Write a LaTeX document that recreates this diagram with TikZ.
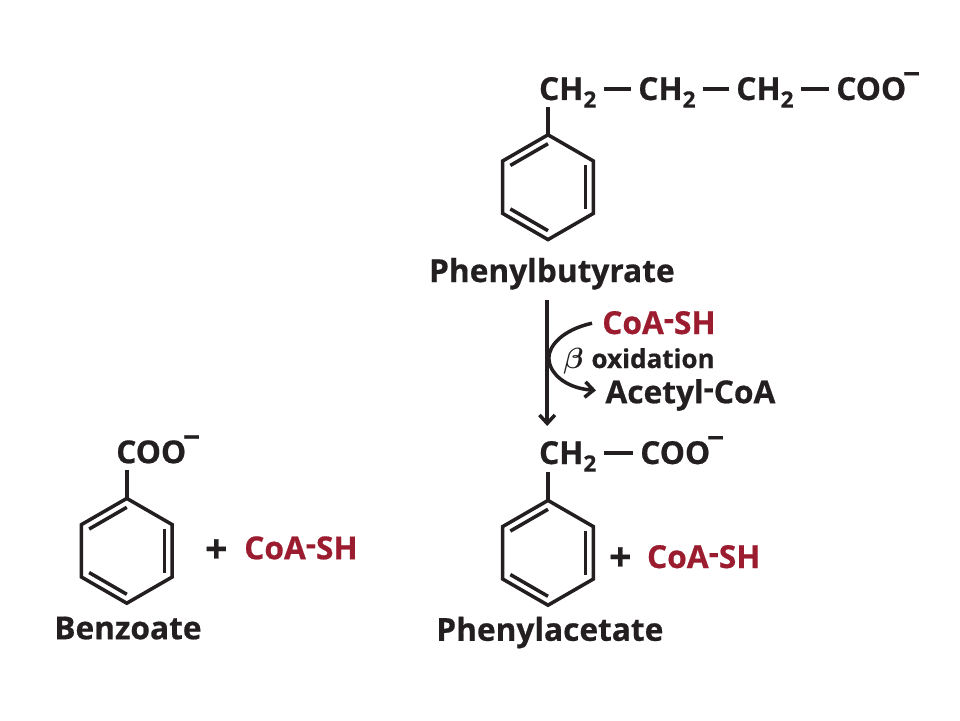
\documentclass[tikz,border=0pt]{standalone}
\usepackage{fontspec}
\setmainfont{Open Sans}[BoldFeatures={FakeBold=0.6}]
\usetikzlibrary{shapes.geometric,calc,arrows.meta}
\definecolor{ink}{HTML}{231F20}
\definecolor{coared}{HTML}{9B1C2E}
\newcommand{\chtwo}{CH\raisebox{-.24em}{\fontsize{16}{16}\selectfont 2}}
\newcommand{\coo}{COO\raisebox{.5em}{\fontsize{21}{21}\selectfont \kern-.1em−}}
\newcommand{\coa}[1]{#1\raisebox{.14em}{-}}
% the three double bonds inside a ring
\newcommand{\innerbonds}[1]{
  \draw[ringline] ($(#1)!.83!(#1.corner 2)$) -- ($(#1)!.83!(#1.corner 3)$);
  \draw[ringline] ($(#1)!.83!(#1.corner 4)$) -- ($(#1)!.83!(#1.corner 5)$);
  \draw[ringline] ($(#1)!.83!(#1.corner 6)$) -- ($(#1)!.83!(#1.corner 1)$);
}
\tikzset{
  chem/.style={anchor=base west,inner sep=0pt,text height=15.6pt,text depth=0pt,
    text=ink,font=\fontsize{22.5}{22.5}\selectfont\bfseries},
  red chem/.style={chem,text=coared},
  plus sign/.style={chem,font=\fontsize{28}{28}\selectfont\bfseries},
  ringline/.style={draw=ink,line width=2.5pt},
  ring/.style={regular polygon,regular polygon sides=6,shape border rotate=-30,
    minimum size=2.62cm,inner sep=0pt,outer sep=0pt,draw=ink,line width=2.5pt},
  bond/.style={draw=ink,line width=2.8pt,shorten <=5pt,shorten >=5pt},
  stem/.style={draw=ink,line width=2.5pt},
  rxn/.style={draw=ink,line width=2.5pt,-{Straight Barb[length=6pt,width=11pt,line width=2.5pt]}}
}
\begin{document}
\begin{tikzpicture}
  \useasboundingbox (0,0) rectangle (24,18);

  % phenylbutyrate
  \node[chem] (cha) at (13.47,15.5) {\chtwo};
  \node[chem] (chb) at (15.95,15.5) {\chtwo};
  \node[chem] (chc) at (18.4,15.5) {\chtwo};
  \node[chem] (cooa) at (20.9,15.5) {\coo};
  \draw[bond] (cha) -- (chb);
  \draw[bond] (chb) -- (chc);
  \draw[bond] (chc) -- (cooa);
  \node[ring] (ringa) at (13.7,13.32) {};
  \innerbonds{ringa}
  \draw[stem] (ringa.corner 2) -- ++(0,.7) coordinate (stema);
  \node[chem] (pb) at (10.72,10.95) {Phenylbutyrate};

  % reaction
  \coordinate (top) at (13.68,10.5);
  \coordinate (bot) at (13.68,7.35);
  \draw[rxn] (top) -- (bot);
  \node[red chem] (coasha) at (15.05,9.65) {\coa{CoA}SH};
  \node[chem,font=\fontsize{18.5}{18.5}\selectfont\bfseries] (ox) at (14.08,8.8) {{\fontsize{20}{20}\selectfont\boldmath$\beta$}\kern.3em oxidation};
  \node[chem] (acoa) at (15.13,7.92) {\coa{Acetyl}CoA};
  \coordinate (curvea) at (14.8,9.92);
  \coordinate (curveb) at (14.9,8.24);
  \draw[rxn] (curvea) .. controls (14.05,9.75) and (13.72,9.35) .. (13.72,9.05)
    .. controls (13.72,8.7) and (14.1,8.3) .. (curveb);

  % phenylacetate
  \node[chem] (chd) at (13.47,6.4) {\chtwo};
  \node[chem] (coob) at (16,6.4) {\coo};
  \draw[bond] (chd) -- (coob);
  \node[ring] (ringb) at (13.7,4.18) {};
  \innerbonds{ringb}
  \draw[stem] (ringb.corner 2) -- ++(0,.7) coordinate (stemb);
  \node[plus sign] (plusb) at (15.22,3.73) {+};
  \node[red chem] (coashb) at (16.17,3.8) {\coa{CoA}SH};
  \node[chem] (pa) at (10.9,1.98) {Phenylacetate};

  % benzoate
  \node[chem] (cooc) at (2.9,6.42) {\coo};
  \node[ring] (ringc) at (3.17,4.23) {};
  \innerbonds{ringc}
  \draw[stem] (ringc.corner 2) -- ++(0,.7) coordinate (stemc);
  \node[plus sign] (plusc) at (5.12,3.93) {+};
  \node[red chem] (coashc) at (6.1,4.02) {\coa{CoA}SH};
  \node[chem] (bz) at (1.35,2.02) {Benzoate};
\end{tikzpicture}
\end{document}
